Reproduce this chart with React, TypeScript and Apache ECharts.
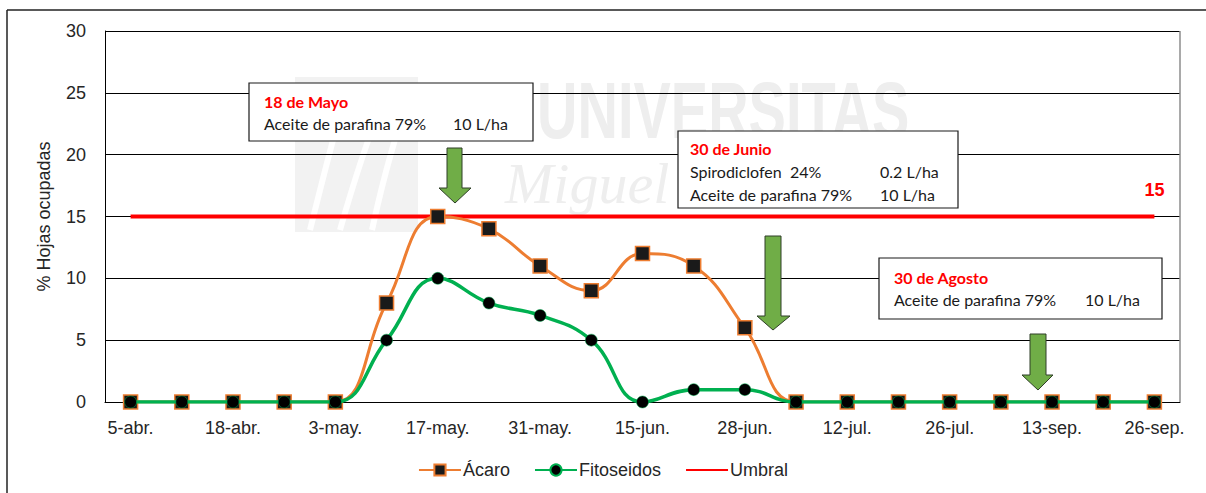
import React, { useEffect, useRef } from "react";
import * as echarts from "echarts";

const categories = [
  "5-abr.", "11-abr.", "18-abr.", "26-abr.", "3-may.", "10-may.", "17-may.",
  "24-may.", "31-may.", "7-jun.", "15-jun.", "21-jun.", "28-jun.", "5-jul.",
  "12-jul.", "19-jul.", "26-jul.", "30-ago.", "13-sep.", "20-sep.", "26-sep.",
];
const acaro = [0, 0, 0, 0, 0, 8, 15, 14, 11, 9, 12, 11, 6, 0, 0, 0, 0, 0, 0, 0, 0];
const fitoseidos = [0, 0, 0, 0, 0, 5, 10, 8, 7, 5, 0, 1, 1, 0, 0, 0, 0, 0, 0, 0, 0];
const umbral = [15, 15, 15, 15, 15, 15, 15, 15, 15, 15, 15, 15, 15, 15, 15, 15, 15, 15, 15, 15, 15];
const yMin = 0;
const yMax = 30;
const yStep = 5;

const boxFont = "Lato, 'Open Sans', sans-serif";
const axisFont = "'Liberation Sans', Arial, sans-serif";

function titleText(x: number, y: number, text: string) {
  return {
    type: "text",
    x,
    y,
    z: 21,
    style: {
      text,
      fill: "#ff0000",
      fontSize: 16,
      fontWeight: "bold",
      fontFamily: boxFont,
      verticalAlign: "middle",
      align: "left",
    },
  };
}

function rowText(x: number, y: number, left: string, right: string, w: number) {
  return {
    type: "text",
    x,
    y,
    z: 21,
    style: {
      text: `{a|${left}}{b|${right}}`,
      fill: "#1a1a1a",
      fontSize: 16,
      fontFamily: boxFont,
      verticalAlign: "middle",
      align: "left",
      rich: {
        a: { width: w, fontSize: 16, fontFamily: boxFont, fill: "#1a1a1a" },
        b: { fontSize: 16, fontFamily: boxFont, fill: "#1a1a1a" },
      },
    },
  };
}

function box(x: number, y: number, w: number, h: number) {
  return {
    type: "rect",
    z: 20,
    shape: { x, y, width: w, height: h },
    style: { fill: "#ffffff", stroke: "#1a1a1a", lineWidth: 1.2 },
  };
}

function arrow(pts: number[][]) {
  return {
    type: "polygon",
    z: 20,
    shape: { points: pts },
    style: { fill: "#70ad47", stroke: "#2f3f28", lineWidth: 1 },
  };
}

export default function App() {
  const ref = useRef<HTMLDivElement>(null);
  useEffect(() => {
    if (!ref.current) return;
    const chart = echarts.init(ref.current, null, { renderer: "svg" });
    chart.setOption({
      animation: false,
      backgroundColor: "#ffffff",
      grid: { left: 105, right: 26, top: 31, bottom: 91, containLabel: false },
      legend: {
        top: 456,
        left: "center",
        itemWidth: 42,
        itemHeight: 14,
        itemGap: 24,
        textStyle: { fontFamily: axisFont, fontSize: 18, color: "#262626", padding: [0, 0, 0, -3] },
        data: [
          "Ácaro",
          "Fitoseidos",
          { name: "Umbral", itemStyle: { color: "rgba(0,0,0,0)", borderColor: "rgba(0,0,0,0)", borderWidth: 0 } },
        ],
      },
      xAxis: {
        type: "category",
        data: categories,
        boundaryGap: true,
        axisLine: { lineStyle: { color: "#000", width: 1 } },
        axisTick: { show: false },
        axisLabel: {
          interval: 1,
          margin: 17,
          fontFamily: axisFont,
          fontSize: 18,
          color: "#262626",
        },
        splitLine: { show: false },
      },
      yAxis: {
        type: "value",
        min: yMin,
        max: yMax,
        interval: yStep,
        name: "% Hojas ocupadas",
        nameLocation: "middle",
        nameGap: 52,
        nameTextStyle: { fontFamily: axisFont, fontSize: 18, color: "#262626" },
        axisLine: { show: true, lineStyle: { color: "#000", width: 1 } },
        axisTick: { show: false },
        axisLabel: { margin: 19, fontFamily: axisFont, fontSize: 18, color: "#262626" },
        splitLine: { show: true, lineStyle: { color: "#000", width: 1 } },
      },
      series: [
        {
          name: "Ácaro",
          type: "line",
          data: acaro,
          smooth: 0.45,
          symbol: "rect",
          symbolSize: 14,
          lineStyle: { color: "#ed7d31", width: 3 },
          itemStyle: { color: "#1a1a1a", borderColor: "#ed7d31", borderWidth: 1.5 },
          z: 3,
        },
        {
          name: "Fitoseidos",
          type: "line",
          data: fitoseidos,
          smooth: 0.45,
          symbol: "circle",
          symbolSize: 12,
          lineStyle: { color: "#00b050", width: 3.5 },
          itemStyle: { color: "#000000", borderColor: "#00b050", borderWidth: 0.5 },
          z: 4,
        },
        {
          name: "Umbral",
          type: "line",
          data: umbral,
          symbol: "none",
          lineStyle: { color: "#ff0000", width: 4 },
          itemStyle: { color: "#ff0000" },
          z: 2,
          markPoint: {
            symbol: "circle",
            symbolSize: 1,
            itemStyle: { color: "rgba(0,0,0,0)" },
            label: {
              show: true,
              position: "top",
              distance: 17,
              formatter: String(umbral[umbral.length - 1]),
              color: "#ff0000",
              fontWeight: "bold",
              fontFamily: axisFont,
              fontSize: 18,
            },
            data: [{ coord: [categories[categories.length - 1], umbral[umbral.length - 1]] }],
          },
        },
      ],
      graphic: [
        // outer frame
        { type: "line", z: 30, shape: { x1: 7, y1: 10, x2: 1206, y2: 10 }, style: { stroke: "#222", lineWidth: 1.5 } },
        { type: "line", z: 30, shape: { x1: 7, y1: 10, x2: 7, y2: 493 }, style: { stroke: "#222", lineWidth: 1.5 } },
        // right border of plot area
        { type: "line", z: 1, shape: { x1: 1180, y1: 31, x2: 1180, y2: 402 }, style: { stroke: "#8c8c8c", lineWidth: 1.5 } },
        // watermark
        { type: "rect", z: -5, shape: { x: 295, y: 77, width: 123, height: 155 }, style: { fill: "#f2f2f2" } },
        { type: "bezierCurve", z: -4, shape: { x1: 310, y1: 230, cpx1: 330, cpy1: 150, x2: 350, y2: 90, cpx2: 340, cpy2: 110 }, style: { stroke: "#ffffff", lineWidth: 6, fill: "none" } },
        { type: "bezierCurve", z: -4, shape: { x1: 340, y1: 230, cpx1: 360, cpy1: 160, x2: 385, y2: 95, cpx2: 375, cpy2: 120 }, style: { stroke: "#ffffff", lineWidth: 6, fill: "none" } },
        { type: "bezierCurve", z: -4, shape: { x1: 372, y1: 230, cpx1: 385, cpy1: 170, x2: 410, y2: 95, cpx2: 400, cpy2: 120 }, style: { stroke: "#ffffff", lineWidth: 6, fill: "none" } },
        {
          type: "text", z: -4, x: 537, y: 150, scaleX: 0.7,
          style: { text: "UNIVERSITAS", fill: "#eeeeee", font: `bold 80px ${axisFont}`, verticalAlign: "bottom" },
        },
        {
          type: "text", z: -4, x: 505, y: 212,
          style: { text: "Miguel Hernández", fill: "#eeeeee", font: "italic 58px 'Liberation Serif', serif", verticalAlign: "bottom" },
        },
        // annotation boxes
        box(249, 83, 284, 58),
        titleText(264, 101, "18 de Mayo"),
        rowText(264, 123, "Aceite de parafina 79%", "10 L/ha", 189),
        box(678, 131, 280, 77),
        titleText(690, 148, "30 de Junio"),
        rowText(690, 171, "Spirodiclofen  24%", "0.2 L/ha", 190),
        rowText(690, 194, "Aceite de parafina 79%", "10 L/ha", 190),
        box(879, 258, 283, 61),
        titleText(894, 277, "30 de Agosto"),
        rowText(894, 299, "Aceite de parafina 79%", "10 L/ha", 191),
        // arrows
        arrow([[447, 148], [462, 148], [462, 188], [471, 188], [455, 203], [439, 188], [447, 188]]),
        arrow([[765, 236], [781, 236], [781, 316], [790, 316], [773, 330], [757, 316], [765, 316]]),
        arrow([[1030, 334], [1046, 334], [1046, 375], [1053, 375], [1038, 390], [1022, 375], [1030, 375]]),
      ],
    });
    return () => chart.dispose();
  }, []);
  return (
    <div
      ref={ref}
      style={{ position: "fixed", left: 0, top: 0, width: 1206, height: 493, background: "#fff" }}
    />
  );
}
